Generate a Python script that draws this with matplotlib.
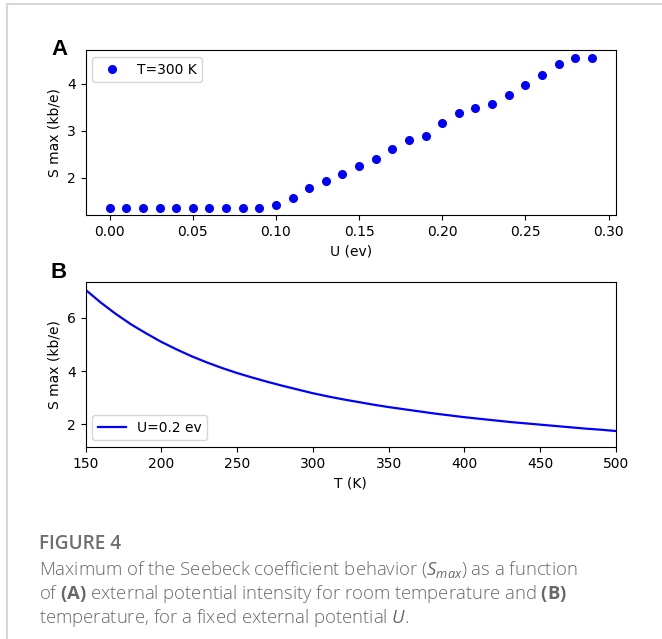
import matplotlib
matplotlib.use("Agg")
import matplotlib.pyplot as plt
from matplotlib.lines import Line2D

# panel A: S max versus U at T=300 K
u_ev = [0.00, 0.01, 0.02, 0.03, 0.04, 0.05, 0.06, 0.07, 0.08, 0.09,
        0.10, 0.11, 0.12, 0.13, 0.14, 0.15, 0.16, 0.17, 0.18, 0.19,
        0.20, 0.21, 0.22, 0.23, 0.24, 0.25, 0.26, 0.27, 0.28, 0.29]
s_max_u = [1.37, 1.37, 1.37, 1.37, 1.37, 1.37, 1.37, 1.37, 1.37, 1.37,
           1.42, 1.57, 1.79, 1.94, 2.09, 2.25, 2.41, 2.61, 2.80, 2.89,
           3.16, 3.37, 3.48, 3.58, 3.77, 3.97, 4.18, 4.43, 4.54, 4.56]

# panel B: S max versus T at U=0.2 ev
t_k = [150, 160, 170, 180, 190, 200, 210, 220, 230, 240, 250, 260,
       270, 280, 290, 300, 310, 320, 330, 340, 350, 360, 370, 380,
       390, 400, 410, 420, 430, 440, 450, 460, 470, 480, 490, 500]
s_max_t = [7.06, 6.58, 6.15, 5.76, 5.42, 5.10, 4.82, 4.56, 4.33, 4.12,
           3.93, 3.76, 3.60, 3.45, 3.31, 3.17, 3.05, 2.94, 2.84, 2.74,
           2.65, 2.57, 2.49, 2.41, 2.34, 2.27, 2.21, 2.15, 2.09, 2.04,
           1.99, 1.94, 1.89, 1.84, 1.80, 1.75]

plt.rcParams['mathtext.fontset'] = 'custom'
plt.rcParams['mathtext.rm'] = 'Open Sans'
plt.rcParams['mathtext.it'] = 'Open Sans:italic'
plt.rcParams['mathtext.bf'] = 'Open Sans:bold'

W, H = 662, 639
fig = plt.figure(figsize=(W / 100, H / 100), dpi=100)

def px_box(x0, y0, x1, y1):
    # pixel box (top-left origin) -> figure fraction rect
    return [x0 / W, 1 - y1 / H, (x1 - x0) / W, (y1 - y0) / H]

axA = fig.add_axes(px_box(85.5, 50, 616, 215))
axA.plot(u_ev, s_max_u, 'o', color='blue', markersize=5.5, label='T=300 K')
axA.set_xlabel('U (ev)', fontsize=10)
axA.set_ylabel('S max (kb/e)', fontsize=10)
axA.set_xticks([0.00, 0.05, 0.10, 0.15, 0.20, 0.25, 0.30])
axA.set_yticks([2, 3, 4])
axA.legend(loc='upper left', numpoints=1, fontsize=10)

axB = fig.add_axes(px_box(85.5, 282, 616, 447))
axB.plot(t_k, s_max_t, '-', color='blue', lw=1.6, label='U=0.2 ev')
axB.set_xlim(150, 500)
axB.set_ylim(1.15, 7.35)
axB.set_xlabel('T (K)', fontsize=10)
axB.set_ylabel('S max (kb/e)', fontsize=10)
axB.set_yticks([2, 4, 6])
axB.legend(loc='lower left', fontsize=10)

for ax in (axA, axB):
    ax.tick_params(labelsize=10)

# panel letters
fig.text(51 / W, 1 - 55 / H, 'A', fontsize=16, fontweight='bold',
         family='Liberation Sans', va='baseline')
fig.text(51 / W, 1 - 278 / H, 'B', fontsize=16, fontweight='bold',
         family='Liberation Sans', va='baseline')

# caption
cap_color = '#6d6e71'
fig.text(39 / W, 1 - 549 / H, 'FIGURE 4', fontsize=13.7, fontweight='semibold',
         family='Open Sans', color=cap_color, va='baseline')
lines = [r'Maximum of the Seebeck coefficient behavior ($S_{max}$) as a function',
         r'of $\mathbf{(A)}$ external potential intensity for room temperature and $\mathbf{(B)}$',
         r'temperature, for a fixed external potential $U$.']
for i, s in enumerate(lines):
    fig.text(39 / W, 1 - (575 + 24 * i) / H, s, fontsize=13.3, fontweight='light',
             family='Open Sans', color='#67686b', va='baseline')

# light frame on top and left
frame = '#d6d6d6'
fig.add_artist(Line2D([7 / W, 1], [1 - 4 / H, 1 - 4 / H], transform=fig.transFigure,
                      color=frame, lw=1.5))
fig.add_artist(Line2D([7 / W, 7 / W], [0, 1 - 4 / H], transform=fig.transFigure,
                      color=frame, lw=1.5))

fig.savefig('out.png', dpi=100)
